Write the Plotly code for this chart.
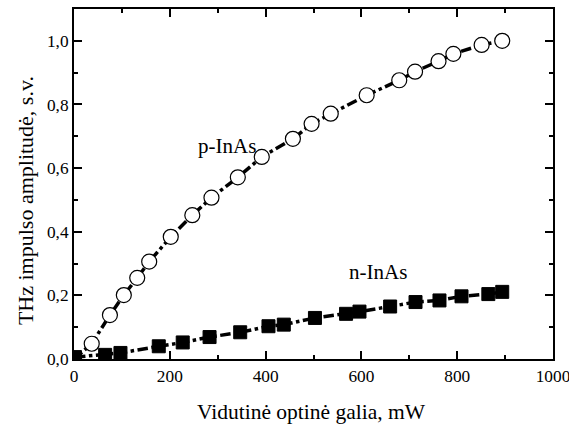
import plotly.graph_objects as go

p_x = [0, 37, 75, 104, 132, 157, 202, 247, 287, 342, 392, 457, 496, 536, 611, 679, 712, 761, 792, 851, 894]
p_y = [0.0, 0.048, 0.138, 0.201, 0.255, 0.306, 0.384, 0.452, 0.507, 0.571, 0.635, 0.692, 0.739, 0.771, 0.829, 0.876, 0.903, 0.936, 0.959, 0.987, 1.0]

n_x = [2, 65, 97, 177, 227, 283, 347, 406, 438, 503, 568, 596, 660, 713, 763, 809, 865, 894]
n_y = [0.006, 0.013, 0.019, 0.040, 0.052, 0.069, 0.084, 0.103, 0.108, 0.129, 0.142, 0.149, 0.165, 0.179, 0.184, 0.197, 0.204, 0.211]

y_ticks = [0.0, 0.2, 0.4, 0.6, 0.8, 1.0]
y_labels = ["0,0", "0,2", "0,4", "0,6", "0,8", "1,0"]
x_ticks = [0, 200, 400, 600, 800, 1000]
x_labels = ["0", "200", "400", "600", "800", "1000"]

FONT = "Liberation Serif"

fig = go.Figure()
fig.add_trace(go.Scatter(
    x=p_x, y=p_y, mode="lines+markers",
    line=dict(color="black", width=3.5, dash="dashdot"),
    marker=dict(symbol="circle", size=15, color="white", line=dict(color="black", width=1.2)),
    showlegend=False))
fig.add_trace(go.Scatter(
    x=n_x, y=n_y, mode="lines+markers",
    line=dict(color="black", width=3.5, dash="dashdot"),
    marker=dict(symbol="square", size=13, color="black", line=dict(color="black", width=1)),
    showlegend=False))

fig.add_annotation(x=319, y=0.668, text="p-InAs", showarrow=False,
                   font=dict(family=FONT, size=21, color="black"))
fig.add_annotation(x=635, y=0.272, text="n-InAs", showarrow=False,
                   font=dict(family=FONT, size=21, color="black"))

fig.add_annotation(xref="paper", yref="paper", x=0.495, y=-0.151,
                   text="Vidutinė optinė galia, mW", showarrow=False,
                   xanchor="center", yanchor="middle",
                   font=dict(family=FONT, size=21.5, color="black"))
fig.add_annotation(xref="paper", yref="paper", x=-0.1023, y=0.454,
                   text="THz impulso amplitudė, s.v.", showarrow=False,
                   textangle=-90, xanchor="center", yanchor="middle",
                   font=dict(family=FONT, size=22, color="black"))

axis_common = dict(
    showline=True, linecolor="black", linewidth=2, mirror="ticks",
    ticks="inside", ticklen=8, tickwidth=1.5, tickcolor="black",
    showgrid=False, zeroline=False, ticklabeloverflow="allow", automargin=False,
    tickfont=dict(family=FONT, size=17.3, color="black"),
)

fig.update_xaxes(range=[0, 1000], tickvals=x_ticks, ticktext=x_labels,
                 minor=dict(ticks="inside", ticklen=4, dtick=100, tickcolor="black", tickwidth=1.5, showgrid=False),
                 **axis_common)
fig.update_yaxes(range=[0, 1.1], tickvals=y_ticks, ticktext=y_labels,
                 minor=dict(ticks="inside", ticklen=4, dtick=0.1, tickcolor="black", tickwidth=1.5, showgrid=False),
                 **axis_common)

fig.update_layout(
    width=569, height=425,
    margin=dict(l=74, r=16, t=9, b=66),
    plot_bgcolor="white", paper_bgcolor="white",
)

fig.write_html("out.html")
